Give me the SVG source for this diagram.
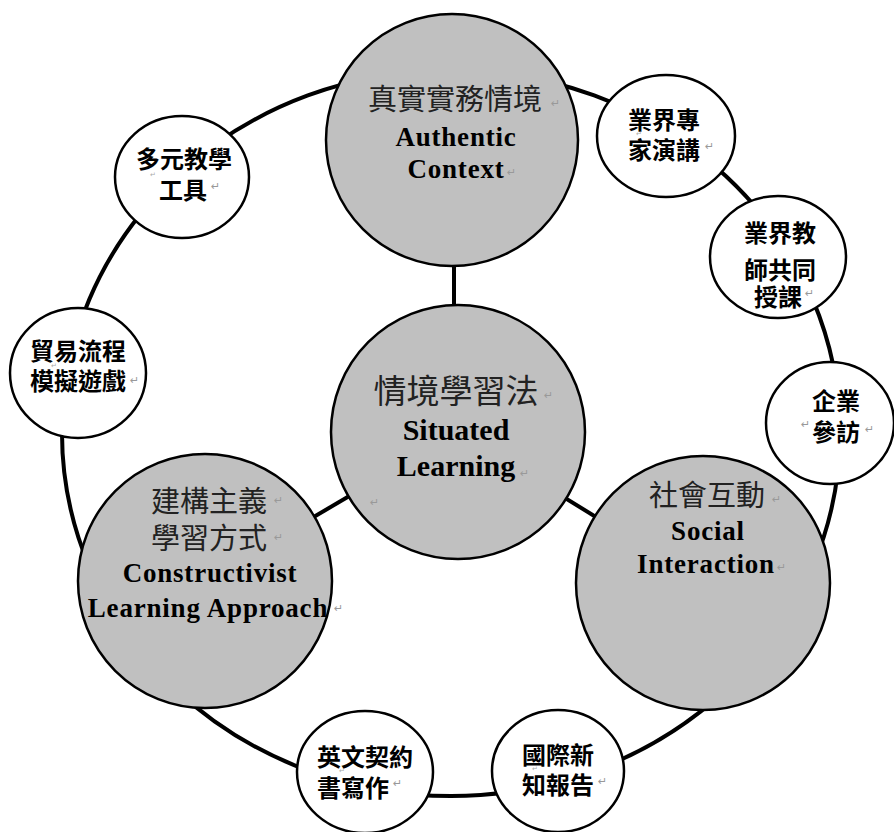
<svg xmlns="http://www.w3.org/2000/svg" width="894" height="832" viewBox="0 0 894 832">
<style>
.ring{fill:none;stroke:#000;stroke-width:4}
.conn{stroke:#000;stroke-width:4}
.big{fill:#c0c0c0;stroke:#000;stroke-width:2.5}
.small{fill:#fff;stroke:#000;stroke-width:2.5}
.zhb{font-family:"Noto Sans CJK TC",sans-serif;font-size:29px;font-weight:400;fill:#222}
.en{font-family:'Liberation Serif','Times New Roman',serif;font-size:27px;font-weight:bold;fill:#000;letter-spacing:0.8px}
.zhs{font-family:"Noto Sans CJK TC",sans-serif;font-size:24px;font-weight:700;fill:#000}
.pm{font-family:"DejaVu Sans",sans-serif;font-size:11px;fill:#999}
.pms{font-family:"DejaVu Sans",sans-serif;font-size:7px;fill:#aaa}
</style>
<rect width="894" height="832" fill="#fff"/>
<g id="connectors">
<ellipse class="ring" cx="451" cy="433" rx="389" ry="363"/>
<line class="conn" x1="454" y1="260" x2="454" y2="312"/>
<line class="conn" x1="458" y1="432" x2="205" y2="581"/>
<line class="conn" x1="458" y1="432" x2="703" y2="583"/>
</g>
<g id="authentic">
<circle class="big" cx="452" cy="140" r="126"/>
<text class="zhb" x="455" y="110" text-anchor="middle">真實實務情境</text>
<text class="en" font-family="Liberation Serif, serif" x="456" y="146" text-anchor="middle">Authentic</text>
<text class="en" font-family="Liberation Serif, serif" x="456" y="178" text-anchor="middle">Context</text>
<text class="pm" x="551" y="107">↵</text>
<text class="pm" x="507" y="176">↵</text>
</g>
<g id="situated">
<circle class="big" cx="458" cy="432" r="127"/>
<text class="zhb" x="456" y="403" text-anchor="middle" style="font-size:33px">情境學習法</text>
<text class="en" font-family="Liberation Serif, serif" x="456" y="440" text-anchor="middle" style="font-size:30px;letter-spacing:0">Situated</text>
<text class="en" font-family="Liberation Serif, serif" x="456" y="476" text-anchor="middle" style="font-size:30px;letter-spacing:0">Learning</text>
<text class="pm" x="544" y="399">↵</text>
<text class="pm" x="520" y="477">↵</text>
<text class="pm" x="370" y="506">↵</text>
</g>
<g id="constructivist">
<circle class="big" cx="205" cy="581" r="127"/>
<text class="zhb" x="209" y="512" text-anchor="middle">建構主義</text>
<text class="zhb" x="209" y="549" text-anchor="middle">學習方式</text>
<text class="en" font-family="Liberation Serif, serif" x="210" y="582" text-anchor="middle">Constructivist</text>
<text class="en" font-family="Liberation Serif, serif" x="208" y="617" text-anchor="middle">Learning Approach</text>
<text class="pm" x="274" y="504">↵</text>
<text class="pm" x="274" y="541">↵</text>
<text class="pm" x="334" y="612">↵</text>
</g>
<g id="social">
<circle class="big" cx="703" cy="583" r="127"/>
<text class="zhb" x="707" y="506" text-anchor="middle">社會互動</text>
<text class="en" font-family="Liberation Serif, serif" x="708" y="540" text-anchor="middle">Social</text>
<text class="en" font-family="Liberation Serif, serif" x="706" y="573" text-anchor="middle">Interaction</text>
<text class="pm" x="772" y="503">↵</text>
<text class="pm" x="777" y="571">↵</text>
</g>
<g id="tools">
<ellipse class="small" cx="182" cy="177" rx="67" ry="61"/>
<text class="zhs" x="184" y="168" text-anchor="middle">多元教學</text>
<text class="zhs" x="183" y="199" text-anchor="middle">工具</text>
<text class="pms" x="150" y="177">↵</text>
<text class="pm" x="211" y="190">↵</text>
</g>
<g id="trade">
<ellipse class="small" cx="78" cy="373" rx="68" ry="65"/>
<text class="zhs" x="78" y="360" text-anchor="middle">貿易流程</text>
<text class="zhs" x="78" y="390" text-anchor="middle">模擬遊戲</text>
<text class="pms" x="51" y="368">↵</text>
<text class="pm" x="130" y="384">↵</text>
</g>
<g id="expert">
<ellipse class="small" cx="666" cy="136" rx="69" ry="61"/>
<text class="zhs" x="628" y="129">業界專</text>
<text class="zhs" x="628" y="159">家演講</text>
<text class="pms" x="636" y="136">↵</text>
<text class="pm" x="705" y="150">↵</text>
</g>
<g id="coteach">
<ellipse class="small" cx="778" cy="257" rx="68" ry="61"/>
<text class="zhs" x="780" y="242" text-anchor="middle">業界教</text>
<text class="zhs" x="780" y="279" text-anchor="middle">師共同</text>
<text class="zhs" x="778" y="306" text-anchor="middle">授課</text>
<text class="pm" x="805" y="297">↵</text>
</g>
<g id="visit">
<ellipse class="small" cx="830" cy="423" rx="64" ry="61"/>
<text class="zhs" x="812" y="410">企業</text>
<text class="zhs" x="812" y="441">參訪</text>
<text class="pm" x="801" y="428">↵</text>
<text class="pm" x="865" y="433">↵</text>
</g>
<g id="contract">
<ellipse class="small" cx="365" cy="772" rx="68" ry="61"/>
<text class="zhs" x="317" y="766">英文契約</text>
<text class="zhs" x="317" y="797">書寫作</text>
<text class="pms" x="339" y="773">↵</text>
<text class="pm" x="393" y="787">↵</text>
</g>
<g id="news">
<ellipse class="small" cx="558" cy="771" rx="66" ry="61"/>
<text class="zhs" x="522" y="764">國際新</text>
<text class="zhs" x="522" y="794">知報告</text>
<text class="pms" x="532" y="771">↵</text>
<text class="pm" x="598" y="785">↵</text>
</g>
</svg>
